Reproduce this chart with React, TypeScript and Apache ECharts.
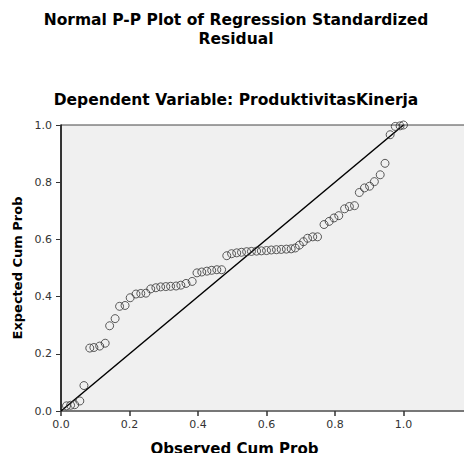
import React, { useEffect, useRef } from "react";
import * as echarts from "echarts";

const observedCumProb = [
  0.016, 0.028, 0.04, 0.055, 0.067, 0.084, 0.096, 0.113, 0.129, 0.142,
  0.158, 0.171, 0.187, 0.202, 0.219, 0.233, 0.248, 0.262, 0.277, 0.291,
  0.306, 0.32, 0.336, 0.35, 0.365, 0.383, 0.397, 0.411, 0.426, 0.44,
  0.455, 0.469, 0.484, 0.498, 0.513, 0.527, 0.542, 0.556, 0.571, 0.585,
  0.6, 0.614, 0.629, 0.643, 0.658, 0.672, 0.684, 0.696, 0.708, 0.72,
  0.735, 0.749, 0.768, 0.783, 0.797, 0.811, 0.828, 0.842, 0.857, 0.871,
  0.886, 0.901, 0.915, 0.932, 0.946, 0.961, 0.976, 0.99, 1.0,
];
const expectedCumProb = [
  0.018, 0.02, 0.022, 0.035, 0.089, 0.22, 0.222, 0.227, 0.237, 0.298,
  0.323, 0.366, 0.369, 0.396, 0.409, 0.411, 0.412, 0.427, 0.431, 0.434,
  0.435, 0.436, 0.437, 0.44, 0.446, 0.453, 0.483, 0.486, 0.489, 0.492,
  0.494, 0.494, 0.543, 0.55, 0.553, 0.555, 0.557, 0.558, 0.559, 0.56,
  0.561, 0.563, 0.564, 0.565, 0.566, 0.567, 0.57, 0.58, 0.592, 0.604,
  0.609, 0.609, 0.652, 0.663, 0.675, 0.683, 0.707, 0.715, 0.718, 0.764,
  0.78, 0.786, 0.802, 0.826, 0.866, 0.966, 0.995, 0.997, 1.0,
];
const referenceLine = [
  [0, 0],
  [1, 1],
];
const titleLines = ["Normal P-P Plot of Regression Standardized", "Residual"];
const subtitleText = "Dependent Variable: ProduktivitasKinerja";
const xAxisName = "Observed Cum Prob";
const yAxisName = "Expected Cum Prob";

const FONT = "'DejaVu Sans', sans-serif";

export default function App() {
  const ref = useRef<HTMLDivElement>(null);
  useEffect(() => {
    if (!ref.current) return;
    const chart = echarts.init(ref.current, undefined, { renderer: "svg" });
    const points = observedCumProb.map((x, i) => [x, expectedCumProb[i]]);
    const titleStyle = {
      fontFamily: FONT,
      fontWeight: "bold",
      fontSize: 15.5,
      lineHeight: 18.8,
      color: "#000",
    };
    chart.setOption({
      animation: false,
      backgroundColor: "#ffffff",
      title: [
        {
          text: titleLines.join("\n"),
          left: "center",
          top: 11,
          padding: 0,
          textStyle: titleStyle,
        },
        {
          text: subtitleText,
          left: "center",
          top: 91,
          padding: 0,
          textStyle: { ...titleStyle, fontSize: 15.5, lineHeight: 18 },
        },
      ],
      grid: {
        left: 61,
        top: 125,
        right: -4,
        bottom: 44,
        show: true,
        backgroundColor: "#f0f0f0",
        borderColor: "#444",
        borderWidth: 1,
      },
      xAxis: {
        type: "value",
        min: 0,
        max: 1.2,
        interval: 0.2,
        name: xAxisName,
        nameLocation: "middle",
        nameGap: 30,
        nameTextStyle: {
          fontFamily: FONT,
          fontWeight: "bold",
          fontSize: 15,
          color: "#000",
          padding: [0, 64, 0, 0],
        },
        splitLine: { show: false },
        axisLine: { show: true, lineStyle: { color: "#777", width: 2 } },
        axisTick: { show: true, length: 5, lineStyle: { color: "#333", width: 1.5 } },
        axisLabel: {
          fontFamily: FONT,
          fontSize: 11,
          color: "#333",
          margin: 8,
          showMaxLabel: false,
          formatter: (v: number) => (v > 1.0001 ? "" : v.toFixed(1)),
        },
      },
      yAxis: {
        type: "value",
        min: 0,
        max: 1,
        interval: 0.2,
        name: yAxisName,
        nameLocation: "middle",
        nameGap: 29,
        nameTextStyle: {
          fontFamily: FONT,
          fontWeight: "bold",
          fontSize: 13,
          color: "#000",
        },
        splitLine: { show: false },
        axisLine: { show: true, lineStyle: { color: "#111", width: 1.5 } },
        axisTick: { show: true, length: 5, lineStyle: { color: "#333", width: 1 } },
        axisLabel: {
          fontFamily: FONT,
          fontSize: 11,
          color: "#333",
          margin: 9,
          formatter: (v: number) => v.toFixed(1),
        },
      },
      series: [
        {
          type: "line",
          data: referenceLine,
          symbol: "none",
          lineStyle: { color: "#000", width: 1.5 },
          silent: true,
          z: 2,
        },
        {
          type: "scatter",
          data: points,
          symbol: "circle",
          symbolSize: 8,
          itemStyle: {
            color: "rgba(0,0,0,0)",
            borderColor: "#333",
            borderWidth: 1,
          },
          z: 3,
        },
      ],
    });
    return () => chart.dispose();
  }, []);
  return <div ref={ref} style={{ width: 472, height: 461, margin: -8 }} />;
}
